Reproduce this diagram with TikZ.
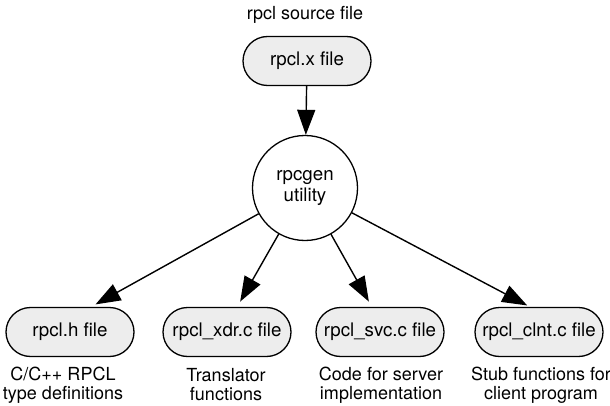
\documentclass[tikz,border=0pt]{standalone}
\usepackage{fontspec}
\setmainfont{TeX Gyre Heros}
\usepackage{tikz}
\usetikzlibrary{shapes.misc,arrows.meta}

\begin{document}
\begin{tikzpicture}[x=1pt,y=1pt,thick]
        %
        % `file' is used for the rounded file boxes.
        % `tool' is used for the rpcgen circle.
        % `note' is used for the texts under and above the boxes.
        \tikzstyle{file} = [draw,fill=black!7,line width=1.3pt,rounded rectangle,minimum width=130pt,minimum height=49pt,inner sep=1pt,font=\fontsize{18.7}{19}\selectfont]
        \tikzstyle{tool} = [draw,fill=white,line width=1.3pt,circle,minimum size=105pt,inner sep=0pt,align=center,font=\fontsize{18.7}{21}\selectfont]
        \tikzstyle{note} = [align=center,inner sep=0pt,font=\fontsize{18}{19}\selectfont]
        \tikzstyle{flow} = [line width=1.4pt,-{Triangle[length=25pt,width=18pt]}]
        %
        \useasboundingbox (0,0) rectangle (610,405);
        %
        % Top
        \node[note] (srclabel) at (305,390) {rpcl source file};
        \node[file] (xfile) at (307,344) {rpcl.x file};
        %
        % Middle
        \node[tool] (gen) at (305,217) {rpcgen\\utility};
        \draw[flow] (xfile) -- (gen);
        %
        % Bottom row
        \node[file] (hfile) at (70,73) {rpcl.h file};
        \node[file] (xdrfile) at (227,73) {rpcl\_xdr.c file};
        \node[file] (svcfile) at (380,73) {rpcl\_svc.c file};
        \node[file] (clntfile) at (539,73) {rpcl\_clnt.c file};
        %
        \draw[flow,shorten >=5pt] (gen) -- (hfile.50);
        \draw[flow,shorten >=6pt] (gen) -- (xdrfile.68);
        \draw[flow,shorten >=6pt] (gen) -- (svcfile.108);
        \draw[flow,shorten >=3pt] (gen) -- (clntfile.110);
        %
        % Texts under the boxes
        \node[note] (hnote) at (63,20) {C/C++ RPCL\\type definitions};
        \node[note] (xdrnote) at (226,20) {Translator\\functions};
        \node[note] (svcnote) at (381,20) {Code for server\\implementation};
        \node[note] (clntnote) at (541,20) {Stub functions for\\client program};
        %
\end{tikzpicture}
\end{document}
